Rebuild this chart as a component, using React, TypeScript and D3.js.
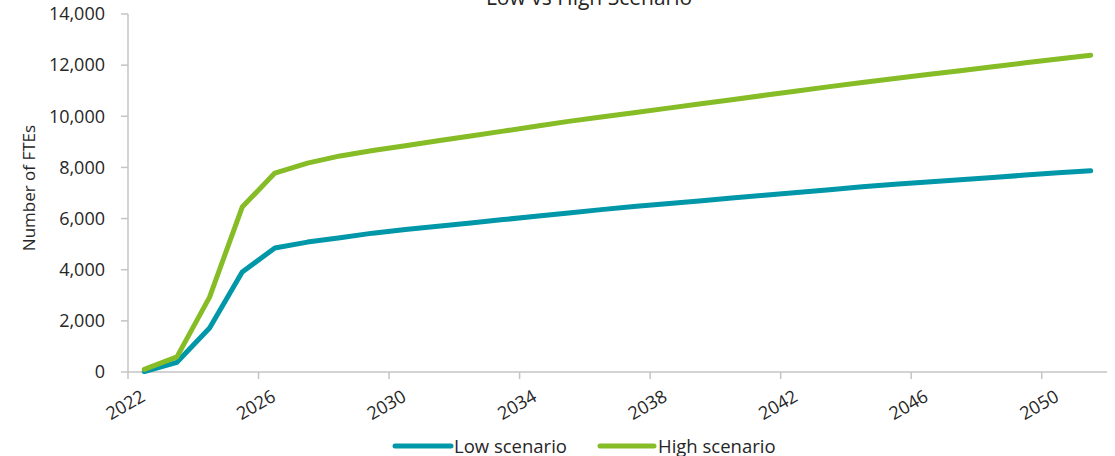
import React from "react";
import * as d3 from "d3";

const years: number[] = [
  2022, 2023, 2024, 2025, 2026, 2027, 2028, 2029, 2030, 2031,
  2032, 2033, 2034, 2035, 2036, 2037, 2038, 2039, 2040, 2041,
  2042, 2043, 2044, 2045, 2046, 2047, 2048, 2049, 2050, 2051,
];
const lowScenario: number[] = [
  20, 380, 1720, 3910, 4850, 5080, 5250, 5430, 5570, 5700,
  5830, 5960, 6090, 6220, 6350, 6470, 6580, 6690, 6800, 6910,
  7020, 7130, 7240, 7340, 7430, 7520, 7610, 7700, 7790, 7870,
];
const highScenario: number[] = [
  100, 590, 2930, 6450, 7780, 8170, 8450, 8660, 8850, 9040,
  9230, 9420, 9610, 9800, 9970, 10140, 10310, 10480, 10650, 10820,
  10990, 11160, 11320, 11480, 11630, 11780, 11940, 12090, 12240, 12390,
];
const yTicks: number[] = [0, 2000, 4000, 6000, 8000, 10000, 12000, 14000];
const xLabelYears: number[] = [2022, 2026, 2030, 2034, 2038, 2042, 2046, 2050];
const seriesNames: string[] = ["Low scenario", "High scenario"];
const seriesColors: string[] = ["#0097A9", "#86BC25"];
const title = "Low vs High Scenario";
const yTitle = "Number of FTEs";

const W = 1115;
const H = 456;
const left = 128;
const right = 1107;
const top = 14;
const bottom = 372;
const FONT = "'Open Sans', 'Segoe UI', sans-serif";

export default function App() {
  const x = d3.scaleBand<number>().domain(years).range([left, right]).padding(0);
  const cx = (yr: number) => (x(yr) as number) + x.bandwidth() / 2;
  const y = d3.scaleLinear().domain([0, 14000]).range([bottom, top]);
  const fmt = d3.format(",");
  const line = d3
    .line<number>()
    .x((_, i) => cx(years[i]))
    .y((d) => y(d));
  const series = [lowScenario, highScenario];
  const axisColor = "#c4c4c4";
  const textColor = "#262626";

  return (
    <svg
      width={W}
      height={H}
      style={{ position: "absolute", left: 0, top: 0, background: "#fff" }}
      fontFamily={FONT}
    >
      <text x={589} y={5} textAnchor="middle" fontSize={21} fill={textColor}>
        {title}
      </text>
      {/* y axis */}
      <line x1={left} x2={left} y1={top} y2={bottom} stroke={axisColor} strokeWidth={1.5} />
      {yTicks.map((t) => (
        <g key={t}>
          <line x1={left - 7} x2={left} y1={y(t)} y2={y(t)} stroke={axisColor} strokeWidth={1.5} />
          <text
            x={105}
            y={y(t)}
            dy="0.35em"
            textAnchor="end"
            fontSize={18}
            fill={textColor}
          >
            {fmt(t)}
          </text>
        </g>
      ))}
      <text
        transform={`translate(35, 188) rotate(-90)`}
        textAnchor="middle"
        fontSize={17}
        fill={textColor}
      >
        {yTitle}
      </text>
      {/* x axis */}
      <line x1={left} x2={right} y1={bottom} y2={bottom} stroke={axisColor} strokeWidth={1.5} />
      {xLabelYears.map((yr) => (
        <g key={yr}>
          <line
            x1={x(yr) as number}
            x2={x(yr) as number}
            y1={bottom}
            y2={bottom + 7}
            stroke={axisColor}
            strokeWidth={1.5}
          />
          <text
            transform={`translate(${cx(yr) + 2}, ${bottom + 28}) rotate(-30)`}
            textAnchor="end"
            fontSize={18}
            fill={textColor}
          >
            {yr}
          </text>
        </g>
      ))}
      {/* lines */}
      {series.map((s, i) => (
        <path
          key={seriesNames[i]}
          d={line(s) || ""}
          fill="none"
          stroke={seriesColors[i]}
          strokeWidth={5}
          strokeLinecap="round"
          strokeLinejoin="round"
        />
      ))}
      {/* legend */}
      {[
        { x0: 395, x1: 451, tx: 454 },
        { x0: 600, x1: 654, tx: 658 },
      ].map((p, i) => (
        <g key={seriesNames[i]}>
          <line
            x1={p.x0}
            x2={p.x1}
            y1={446}
            y2={446}
            stroke={seriesColors[i]}
            strokeWidth={5}
            strokeLinecap="round"
          />
          <text x={p.tx} y={453} fontSize={18.5} fill={textColor}>
            {seriesNames[i]}
          </text>
        </g>
      ))}
    </svg>
  );
}
